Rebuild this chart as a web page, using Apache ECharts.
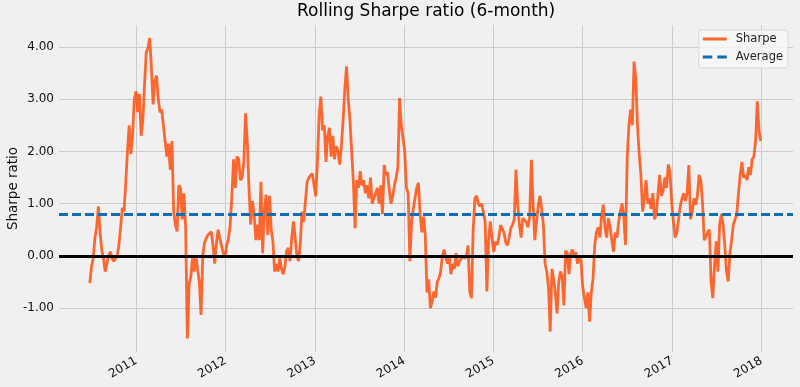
<!DOCTYPE html>
<html>
<head>
<meta charset="utf-8">
<script src="https://cdn.jsdelivr.net/npm/echarts@6/dist/echarts.min.js"></script>
<style>
  html, body { margin: 0; padding: 0; background: #f0f0f0; }
  #chart { width: 800px; height: 387px; }
</style>
</head>
<body>
<div id="chart"></div>
<script>
// ---- data ----
const titleText = 'Rolling Sharpe ratio (6-month)';
const yAxisName = 'Sharpe ratio';
const seriesNames = ['Sharpe', 'Average'];
const startDate = '2010-06-25';   // first weekly observation
const stepDays = 7;               // weekly samples
const xMin = '2010-02-19';
const xMax = '2018-05-10';
const yMin = -1.84;
const yMax = 4.42;
const averageValue = 0.80;
const zeroValue = 0.0;
const sharpeValues = [
  -0.52,-0.2,-0.05,0.35,0.55,0.95,0.45,0.1,-0.05,-0.3,
  -0.15,0.0,0.08,-0.05,-0.1,-0.12,0.0,0.2,0.55,0.92,
  0.85,1.4,2.0,2.5,1.95,2.3,3.0,3.15,2.75,3.1,
  2.3,2.6,3.3,3.9,3.98,4.17,3.6,2.9,3.35,3.45,
  3.0,2.75,2.8,2.5,2.2,1.9,2.15,1.65,2.2,0.85,
  0.6,0.47,1.35,1.3,0.7,1.2,0.55,-1.58,-0.55,-0.4,
  -0.05,-0.3,0.0,0.02,-0.5,-1.13,0.0,0.25,0.33,0.4,
  0.43,0.46,0.2,-0.15,0.25,0.5,0.33,0.36,0.05,-0.02,
  0.2,0.33,0.58,1.15,1.85,1.3,1.9,1.85,1.45,1.5,
  1.8,2.73,2.2,1.3,0.6,1.05,0.8,0.3,0.6,0.3,
  1.42,0.05,0.9,1.17,0.4,1.15,0.5,0.27,-0.3,-0.15,
  -0.3,-0.05,-0.25,-0.35,-0.2,0.1,0.15,-0.1,0.35,0.66,
  0.35,0.0,-0.1,0.25,0.85,0.65,1.05,1.42,1.5,1.47,
  1.58,1.55,1.14,1.8,2.7,3.05,2.4,2.5,1.8,2.3,
  2.45,1.9,2.3,1.85,2.1,2.0,1.75,2.1,2.6,3.2,
  3.63,3.0,2.6,2.0,1.42,0.53,1.45,1.3,1.62,1.35,
  1.45,1.2,1.35,1.1,1.5,1.0,0.98,1.2,1.3,1.0,
  1.35,0.8,1.74,1.55,1.6,1.25,1.0,1.15,1.35,1.5,
  1.7,3.02,2.5,2.5,2.0,1.3,1.2,-0.1,0.65,0.9,
  1.1,1.3,1.4,0.8,0.45,0.75,0.4,-0.7,-0.45,-1.0,
  -0.88,-0.68,-0.8,-0.5,-0.43,-0.3,0.0,0.12,-0.03,-0.15,
  0.0,-0.35,-0.15,-0.25,0.05,-0.2,-0.1,-0.05,0.0,-0.05,
  0.0,0.2,-0.68,-0.81,0.5,1.1,1.15,1.0,0.95,1.0,
  0.98,0.65,-0.68,0.3,0.66,0.33,0.08,0.27,0.21,0.35,
  0.59,0.58,0.45,0.26,0.2,0.35,0.53,0.6,0.7,1.65,
  1.0,0.6,0.35,0.72,0.75,0.65,0.55,0.75,1.84,1.0,
  0.3,0.65,0.95,1.15,0.9,0.6,-0.15,-0.3,-0.6,-1.45,
  -0.25,-0.45,-0.7,-1.1,-0.5,-0.3,-0.4,-0.95,0.1,0.05,
  -0.35,0.05,0.12,0.0,0.07,-0.15,0.0,-0.1,-0.6,-0.8,
  -1.0,-0.7,-1.26,-0.7,-0.45,0.2,0.45,0.55,0.35,0.75,
  0.98,0.55,0.35,0.72,0.55,0.3,0.08,0.45,0.35,0.65,
  0.85,1.0,0.75,0.21,1.9,2.5,2.8,2.5,3.72,3.4,
  2.5,1.95,1.55,0.85,1.1,1.45,1.0,1.1,0.9,1.2,
  0.7,0.8,1.2,1.55,1.15,1.25,1.5,1.3,1.75,1.6,
  1.0,0.65,0.35,0.45,0.7,0.95,1.1,1.2,1.05,1.2,
  1.74,0.7,0.85,1.1,0.98,1.15,1.55,1.45,1.0,0.3,
  0.3,0.45,0.5,-0.5,-0.81,-0.2,0.28,-0.3,0.6,0.8,
  0.6,0.2,-0.3,-0.49,0.05,0.3,0.6,0.7,0.8,1.2,
  1.55,1.8,1.5,1.55,1.45,1.7,1.55,1.85,1.9,2.2,
  2.96,2.4,2.2
];

// ---- build (date, value) pairs ----
const DAY = 24 * 3600 * 1000;
const t0 = Date.parse(startDate + 'T00:00:00Z');
const sharpeData = sharpeValues.map((v, i) => [t0 + i * stepDays * DAY, v]);

const FONT = 'DejaVu Sans';
const ORANGE = 'rgba(255,69,0,0.8)';
const BLUE = '#0f6fb2';
const solidIcon = 'path://M0,0H24V3H0Z';
const dashIcon = 'path://M0,0H9.5V3H0Z M14.5,0H24V3H14.5Z';

const chart = echarts.init(document.getElementById('chart'), null, { renderer: 'canvas' });
chart.setOption({
  animation: false,
  backgroundColor: '#f0f0f0',
  title: {
    text: titleText,
    left: 297,
    top: 0,
    padding: [3, 0],
    textStyle: { fontFamily: FONT, fontSize: 17, fontWeight: 'normal', color: '#000' }
  },
  legend: {
    data: [
      { name: seriesNames[0], icon: solidIcon },
      { name: seriesNames[1], icon: dashIcon }
    ],
    orient: 'vertical',
    right: 12,
    top: 30,
    padding: [2, 5, 4, 4],
    itemGap: 4,
    itemWidth: 24,
    itemHeight: 3,
    backgroundColor: 'rgba(248,248,248,0.8)',
    borderColor: '#d8d8d8',
    borderWidth: 1,
    borderRadius: 3,
    textStyle: { fontFamily: FONT, fontSize: 11.5, color: '#222', padding: [0, 0, 0, 4], lineHeight: 14 }
  },
  grid: { left: 59, right: 7, top: 25, bottom: 35, outerBoundsMode: 'none', containLabel: false },
  xAxis: {
    type: 'time',
    min: xMin,
    max: xMax,
    splitNumber: 9,
    axisLine: { show: false },
    axisTick: { show: false },
    axisLabel: {
      rotate: 30,
      margin: 8,
      formatter: '{yyyy}',
      fontFamily: FONT, fontSize: 12, color: '#111',
      showMinLabel: false, showMaxLabel: false
    },
    splitLine: { show: true, showMinLine: false, showMaxLine: false, lineStyle: { color: '#cbcbcb', width: 1 } }
  },
  yAxis: {
    type: 'value',
    min: yMin,
    max: yMax,
    minInterval: 1,
    maxInterval: 1,
    name: yAxisName,
    nameLocation: 'middle',
    nameGap: 39,
    nameMoveOverlap: false,
    nameTextStyle: { fontFamily: FONT, fontSize: 13.5, color: '#111' },
    axisLine: { show: false },
    axisTick: { show: false },
    axisLabel: {
      margin: 5,
      formatter: v => v.toFixed(2),
      fontFamily: FONT, fontSize: 12, color: '#111',
      showMinLabel: false, showMaxLabel: false
    },
    splitLine: { show: true, showMinLine: false, showMaxLine: false, lineStyle: { color: '#cbcbcb', width: 1 } }
  },
  series: [
    {
      name: seriesNames[0],
      type: 'line',
      data: sharpeData,
      showSymbol: false,
      symbol: 'none',
      z: 2,
      itemStyle: { color: ORANGE },
      lineStyle: { color: ORANGE, width: 2.8 }
    },
    {
      name: seriesNames[1],
      type: 'line',
      data: [],
      symbol: 'none',
      z: 3,
      itemStyle: { color: BLUE },
      lineStyle: { color: BLUE, width: 3, type: [9, 4] },
      markLine: {
        silent: true,
        symbol: 'none',
        label: { show: false },
        lineStyle: { color: BLUE, width: 3, type: [9, 4] },
        data: [{ yAxis: averageValue }]
      }
    },
    {
      name: 'zero',
      type: 'line',
      data: [],
      symbol: 'none',
      z: 4,
      markLine: {
        silent: true,
        symbol: 'none',
        label: { show: false },
        lineStyle: { color: '#000', width: 3, type: 'solid' },
        data: [{ yAxis: zeroValue }]
      }
    }
  ]
});
</script>
</body>
</html>
